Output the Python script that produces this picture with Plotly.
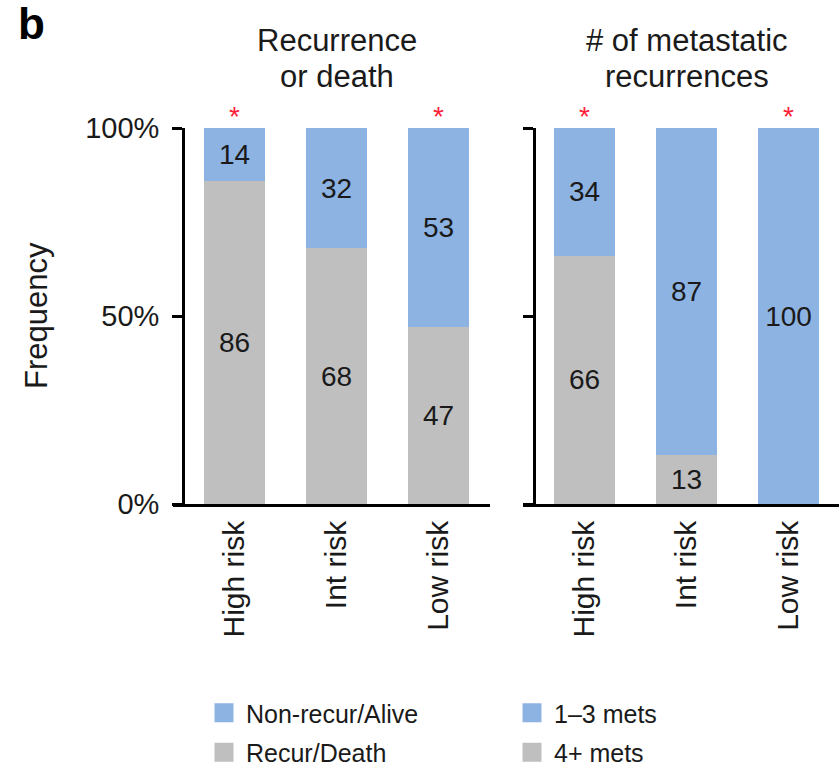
import plotly.graph_objects as go

categories = ["High risk", "Int risk", "Low risk"]
rd_alive = [14, 32, 53]      # Non-recur/Alive
rd_death = [86, 68, 47]      # Recur/Death
mets_13 = [34, 87, 100]      # 1–3 mets
mets_4p = [66, 13, 0]        # 4+ mets
sig_left = ["*", "", "*"]
sig_right = ["*", "", "*"]
yticks = [0, 50, 100]
ytick_labels = ["0%", "50%", "100%"]
title_left = ["Recurrence", "or death"]
title_right = ["# of metastatic", "recurrences"]

BLUE = "#8DB3E2"
GRAY = "#BFBFBF"
TXT = "#1a1a1a"
FONT = "Liberation Sans, Arial, sans-serif"
W, H = 839, 772


def lbl(vals):
    return [str(v) if v else "" for v in vals]


fig = go.Figure()

bar_kw = dict(width=0.6, textposition="inside", insidetextanchor="middle",
              textfont=dict(size=28, color=TXT, family=FONT),
              marker_line_width=0, showlegend=False, hoverinfo="skip")

fig.add_trace(go.Bar(x=categories, y=rd_death, marker_color=GRAY, text=lbl(rd_death),
                     xaxis="x", yaxis="y", **bar_kw))
fig.add_trace(go.Bar(x=categories, y=rd_alive, marker_color=BLUE, text=lbl(rd_alive),
                     xaxis="x", yaxis="y", **bar_kw))
fig.add_trace(go.Bar(x=categories, y=mets_4p, marker_color=GRAY, text=lbl(mets_4p),
                     xaxis="x2", yaxis="y2", **bar_kw))
fig.add_trace(go.Bar(x=categories, y=mets_13, marker_color=BLUE, text=lbl(mets_13),
                     xaxis="x2", yaxis="y2", **bar_kw))

# legend entries (square markers)
leg = [("Non-recur/Alive", BLUE, "legend", 1), ("Recur/Death", GRAY, "legend", 2),
       ("1–3 mets", BLUE, "legend2", 1), ("4+ mets", GRAY, "legend2", 2)]
for name, col, lg, rank in leg:
    fig.add_trace(go.Scatter(x=[None], y=[None], mode="markers", name=name,
                             marker=dict(symbol="square", size=16, color=col,
                                         line=dict(width=3, color=col)),
                             legend=lg, legendrank=rank, legendgroup=name,
                             xaxis="x", yaxis="y"))

y_bot = (H - 504) / H
y_top = (H - 128) / H

axis_common = dict(showgrid=False, zeroline=False, showline=True, linecolor="black",
                   linewidth=2.6, automargin=False)
leg_common = dict(y=(H - 690) / H, xanchor="left", yanchor="top", itemwidth=34,
                  font=dict(size=25, color=TXT), tracegroupgap=4, bgcolor="rgba(0,0,0,0)")
fig.update_layout(
    template="none",
    width=W, height=H, margin=dict(l=0, r=0, t=0, b=0, autoexpand=False),
    paper_bgcolor="white", plot_bgcolor="white",
    barmode="stack", font=dict(family=FONT, color=TXT),
    uniformtext=dict(minsize=28, mode="show"),
    xaxis=dict(domain=[173 / W, 490 / W], anchor="y", range=[-0.603, 2.505],
               tickangle=-90, ticks="", tickfont=dict(size=30, color=TXT),
               ticklabelstandoff=2, fixedrange=True, **axis_common),
    yaxis=dict(domain=[y_bot, y_top], anchor="free", position=183 / W, range=[0, 100],
               tickvals=yticks, ticktext=ytick_labels, ticks="outside", ticklen=10,
               tickwidth=2.6, tickcolor="black", tickfont=dict(size=29, color=TXT),
               ticklabelstandoff=7, **axis_common),
    xaxis2=dict(domain=[523 / W, 1.0], anchor="y2", range=[-0.603, 2.495],
                tickangle=-90, ticks="", tickfont=dict(size=30, color=TXT),
                ticklabelstandoff=2, **axis_common),
    yaxis2=dict(domain=[y_bot, y_top], anchor="free", position=534 / W, range=[0, 100],
                tickvals=yticks, showticklabels=False, ticks="outside", ticklen=10,
                tickwidth=2.6, tickcolor="black", **axis_common),
    legend=dict(x=202 / W, **leg_common),
    legend2=dict(x=510 / W, **leg_common),
)

# panel titles (one annotation per line)
for xr, lines in (("x", title_left), ("x2", title_right)):
    for i, line in enumerate(lines):
        fig.add_annotation(text=line, xref=xr, yref="paper", x=categories[1],
                           y=(H - (41 + 35 * i)) / H, yanchor="middle", showarrow=False,
                           font=dict(size=31, color=TXT))

# significance asterisks
for xr, yr, sigs in (("x", "y", sig_left), ("x2", "y2", sig_right)):
    for c, s in zip(categories, sigs):
        if s:
            fig.add_annotation(text=s, xref=xr, yref=yr, x=c, y=100, yanchor="bottom",
                               yshift=-6, showarrow=False,
                               font=dict(size=28, color="#FF1F3A"))

# y-axis title
fig.add_annotation(text="Frequency", xref="paper", yref="paper", x=36 / W,
                   xanchor="center", yanchor="middle",
                   y=(H - 316) / H, textangle=-90, showarrow=False,
                   font=dict(size=31, color=TXT))

# panel letter
fig.add_annotation(text="<b>b</b>", xref="paper", yref="paper", x=16 / W, y=1 + 3 / H,
                   xanchor="left", yanchor="top", showarrow=False,
                   font=dict(size=44, color="black"))

fig.write_html("out.html", config={"displayModeBar": False},
               post_script="document.body.style.margin='0';")
